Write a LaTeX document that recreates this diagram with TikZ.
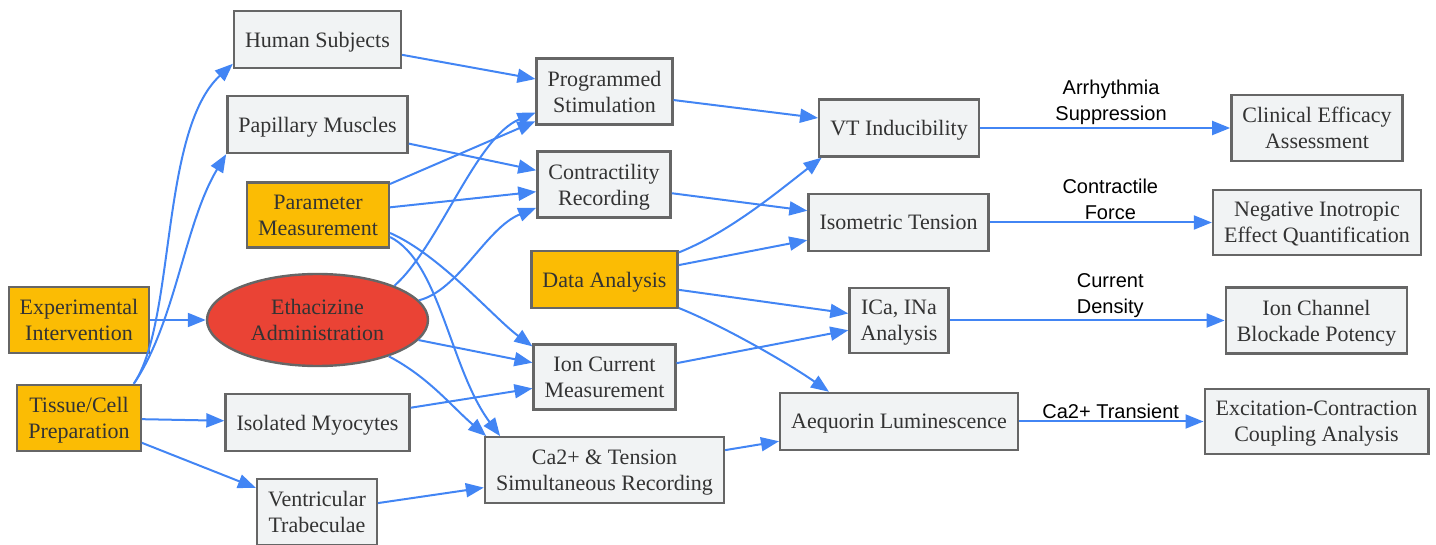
\documentclass[tikz,border=0pt]{standalone}
\usepackage{fontspec}
\setmainfont{Liberation Serif}
\newfontfamily\etiqfont{Liberation Sans}
\usepackage{tikz}
\usetikzlibrary{arrows.meta,shapes.geometric}

\definecolor{gris}{HTML}{F1F3F4}
\definecolor{borde}{HTML}{666666}
\definecolor{amarillo}{HTML}{FBBC04}
\definecolor{rojo}{HTML}{EA4335}
\definecolor{azul}{HTML}{4285F4}
\definecolor{texto}{HTML}{333333}

\tikzset{
   caja/.style={draw=borde,line width=1.2pt,fill=gris,text=texto,align=center,
      inner xsep=5.5pt,inner ysep=6.2pt,minimum height=28.5pt,text depth=0pt,
      font=\fontsize{11}{13}\selectfont},
   paso/.style={caja,fill=amarillo},
   droga/.style={caja,ellipse,fill=rojo,inner sep=2pt,
      minimum width=110.5pt,minimum height=46pt},
   flecha/.style={azul,line width=1pt,-{Triangle[length=9pt,width=7pt]}},
   etiq/.style={above,inner sep=1pt,align=center,text=black,
      font=\etiqfont\fontsize{10}{13}\selectfont}
}

\begin{document}
\begin{tikzpicture}[x=0.5pt,y=-0.5pt]
   \useasboundingbox (0,0) rectangle (1436,545);
   %entradas
   \node[paso] (exp) at (79,320) {Experimental\\Intervention};
   \node[paso] (tis) at (79,418) {Tissue/Cell\\Preparation};
   %muestras
   \node[caja] (hum) at (317.5,39.5) {Human Subjects};
   \node[caja] (pap) at (317.5,124.5) {Papillary Muscles};
   \node[paso] (par) at (318,215) {Parameter\\Measurement};
   \node[droga] (eth) at (317.5,320) {Ethacizine\\Administration};
   \node[caja] (iso) at (317.5,422.5) {Isolated Myocytes};
   \node[caja] (ven) at (317,512) {Ventricular\\Trabeculae};
   %registros
   \node[caja] (prog) at (604.5,91.5) {Programmed\\Stimulation};
   \node[caja] (con) at (604,184.5) {Contractility\\Recording};
   \node[paso] (dat) at (604.5,279.5) {Data Analysis};
   \node[caja] (ion) at (604.5,377) {Ion Current\\Measurement};
   \node[caja] (cat) at (604.5,470) {Ca2+ \& Tension\\Simultaneous Recording};
   %medidas
   \node[caja] (vt) at (899,128) {VT Inducibility};
   \node[caja] (ten) at (898.5,222.5) {Isometric Tension};
   \node[caja] (ica) at (899,320.5) {ICa, INa\\Analysis};
   \node[caja] (aeq) at (899,421.5) {Aequorin Luminescence};
   %resultados
   \node[caja] (cli) at (1317,128) {Clinical Efficacy\\Assessment};
   \node[caja] (neg) at (1317,222.5) {Negative Inotropic\\Effect Quantification};
   \node[caja] (blo) at (1316.5,320.5) {Ion Channel\\Blockade Potency};
   \node[caja] (exc) at (1316.5,421.5) {Excitation-Contraction\\Coupling Analysis};
   %aristas izquierda
   \draw[flecha] (exp) -- (eth);
   \draw[flecha] (tis.32) .. controls +(42,-62) and +(-73,67) .. (hum.-164);
   \draw[flecha] (tis.32) .. controls +(42,-62) and +(-42,70) .. (pap.south west);
   \draw[flecha] (tis) -- (iso);
   \draw[flecha] (tis) -- (ven);
   %aristas centro
   \draw[flecha] (hum) -- (prog);
   \draw[flecha] (pap) -- (con);
   \draw[flecha] (par) -- (prog);
   \draw[flecha] (par) -- (con);
   \draw[flecha] (par.-14) .. controls +(50,22) and +(-38,-28) .. (ion.157);
   \draw[flecha] (par.-17) .. controls +(50,25) and +(-50,-67) .. (cat.162);
   \draw[flecha] (eth.24) .. controls +(45,-40) and +(-60,25) .. (prog.-163);
   \draw[flecha] (eth.11) .. controls +(40,-10) and +(-50,20) .. (con.-161);
   \draw[flecha] (eth) -- (ion);
   \draw[flecha] (eth.-27) .. controls +(40,21) and +(-35,-30) .. (cat.164);
   \draw[flecha] (iso) -- (ion);
   \draw[flecha] (ven) -- (cat);
   %aristas derecha
   \draw[flecha] (prog) -- (vt);
   \draw[flecha] (con) -- (ten);
   \draw[flecha] (dat.20) .. controls +(50,-20) and +(-45,35) .. (vt.-159);
   \draw[flecha] (dat) -- (ten);
   \draw[flecha] (dat) -- (ica);
   \draw[flecha] (dat.-21) .. controls +(45,18) and +(-40,-28) .. (aeq.157);
   \draw[flecha] (ion) -- (ica);
   \draw[flecha] (cat) -- (aeq);
   %etiquetas
   \draw[flecha] (vt) -- node[etiq,pos=.524] {Arrhythmia\\Suppression} (cli);
   \draw[flecha] (ten) -- node[etiq,pos=.543] {Contractile\\Force} (neg);
   \draw[flecha] (ica) -- node[etiq,pos=.584] {Current\\Density} (blo);
   \draw[flecha] (aeq) -- node[etiq,pos=.497] {Ca2+ Transient} (exc);
\end{tikzpicture}
\end{document}
